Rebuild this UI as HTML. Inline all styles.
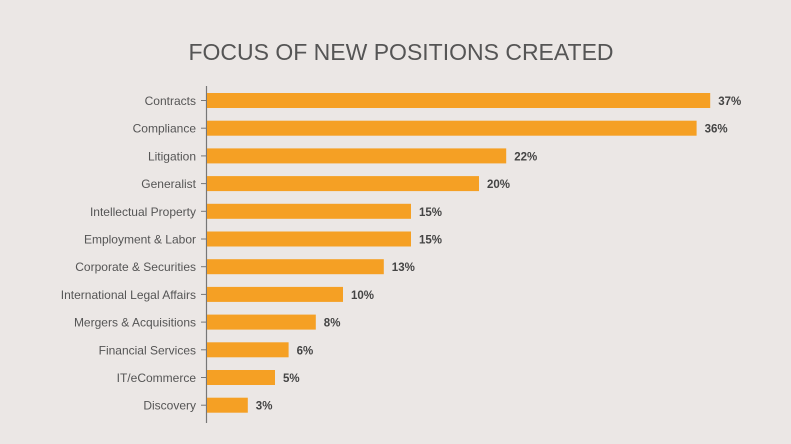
<!DOCTYPE html>
<html><head><meta charset="utf-8"><style>
html,body{margin:0;padding:0;background:#ebe7e5;}
svg{display:block;font-family:"Liberation Sans",sans-serif;}
</style></head><body>
<svg id="chart" width="791" height="444" viewBox="0 0 791 444">
<rect width="791" height="444" fill="#ebe7e5"/>
<text x="401" y="60" text-anchor="middle" font-size="23" fill="#555">FOCUS OF NEW POSITIONS CREATED</text>
<g id="plot"></g>
</svg>
<script>
const categories = ["Contracts","Compliance","Litigation","Generalist","Intellectual Property","Employment & Labor","Corporate & Securities","International Legal Affairs","Mergers & Acquisitions","Financial Services","IT/eCommerce","Discovery"];
const values = [37,36,22,20,15,15,13,10,8,6,5,3];
const valueLabels = ["37%","36%","22%","20%","15%","15%","13%","10%","8%","6%","5%","3%"];
const NS="http://www.w3.org/2000/svg";
const g=document.getElementById('plot');
const x0=207, pxPer=13.6, y0=100.5, step=27.7, bh=15;
function xScale(v){return x0+v*pxPer;}
function yScale(i){return y0+i*step;}
const axis=document.createElementNS(NS,'line');
axis.setAttribute('x1',206.5);axis.setAttribute('x2',206.5);axis.setAttribute('y1',86);axis.setAttribute('y2',423);
axis.setAttribute('stroke','#777');axis.setAttribute('stroke-width','1.2');


g.appendChild(axis);
categories.forEach((c,i)=>{
  const y=yScale(i);
  const t=document.createElementNS(NS,'line');
  t.setAttribute('x1',201);t.setAttribute('x2',206);t.setAttribute('y1',y);t.setAttribute('y2',y);t.setAttribute('stroke','#777');
  
  
  g.appendChild(t);
  const lab=document.createElementNS(NS,'text');
  lab.setAttribute('x',196);lab.setAttribute('y',y+4.5);lab.setAttribute('text-anchor','end');
  lab.setAttribute('font-size','12');lab.setAttribute('fill','#555');lab.textContent=c;
  
  
  g.appendChild(lab);
  const r=document.createElementNS(NS,'rect');
  r.setAttribute('x',x0);r.setAttribute('y',y-bh/2);r.setAttribute('width',xScale(values[i])-x0);r.setAttribute('height',bh);
  r.setAttribute('fill','#f5a024');
  
  
  g.appendChild(r);
  const v=document.createElementNS(NS,'text');
  v.setAttribute('x',xScale(values[i])+8);v.setAttribute('y',y+4.5);
  v.setAttribute('font-size','11.5');v.setAttribute('font-weight','bold');v.setAttribute('fill','#444');v.textContent=valueLabels[i];
  
  
  g.appendChild(v);
});
</script>
</body></html>
